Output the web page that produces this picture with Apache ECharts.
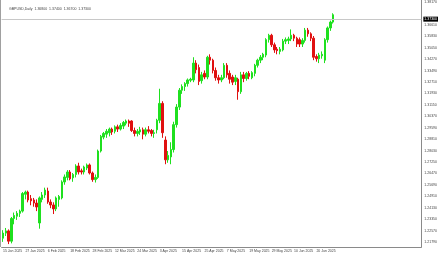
<!DOCTYPE html>
<html><head><meta charset="utf-8">
<script src="https://cdn.jsdelivr.net/npm/echarts@6/dist/echarts.min.js"></script>
<style>html,body{margin:0;padding:0;background:#fff}#c{width:440px;height:254px}</style>
</head><body><div id="c"></div>
<script>
const titleText = "GBPUSD,Daily  1.36800  1.37400  1.36700  1.37300";
const dates = ["15 Jan 2025","16 Jan 2025","17 Jan 2025","20 Jan 2025","21 Jan 2025","22 Jan 2025","23 Jan 2025","24 Jan 2025","27 Jan 2025","28 Jan 2025","29 Jan 2025","30 Jan 2025","31 Jan 2025",
"3 Feb 2025","4 Feb 2025","5 Feb 2025","6 Feb 2025","7 Feb 2025","10 Feb 2025","11 Feb 2025","12 Feb 2025","13 Feb 2025","14 Feb 2025","17 Feb 2025","18 Feb 2025","19 Feb 2025","20 Feb 2025","21 Feb 2025","24 Feb 2025","25 Feb 2025","26 Feb 2025","27 Feb 2025","28 Feb 2025",
"3 Mar 2025","4 Mar 2025","5 Mar 2025","6 Mar 2025","7 Mar 2025","10 Mar 2025","11 Mar 2025","12 Mar 2025","13 Mar 2025","14 Mar 2025","17 Mar 2025","18 Mar 2025","19 Mar 2025","20 Mar 2025","21 Mar 2025","24 Mar 2025","25 Mar 2025","26 Mar 2025","27 Mar 2025","28 Mar 2025","31 Mar 2025",
"1 Apr 2025","2 Apr 2025","3 Apr 2025","4 Apr 2025","7 Apr 2025","8 Apr 2025","9 Apr 2025","10 Apr 2025","11 Apr 2025","14 Apr 2025","15 Apr 2025","16 Apr 2025","17 Apr 2025","18 Apr 2025","21 Apr 2025","22 Apr 2025","23 Apr 2025","24 Apr 2025","25 Apr 2025","28 Apr 2025","29 Apr 2025","30 Apr 2025",
"1 May 2025","2 May 2025","5 May 2025","6 May 2025","7 May 2025","8 May 2025","9 May 2025","12 May 2025","13 May 2025","14 May 2025","15 May 2025","16 May 2025","19 May 2025","20 May 2025","21 May 2025","22 May 2025","23 May 2025","26 May 2025","27 May 2025","28 May 2025","29 May 2025","30 May 2025",
"2 Jun 2025","3 Jun 2025","4 Jun 2025","5 Jun 2025","6 Jun 2025","9 Jun 2025","10 Jun 2025","11 Jun 2025","12 Jun 2025","13 Jun 2025","16 Jun 2025","17 Jun 2025","18 Jun 2025","19 Jun 2025","20 Jun 2025","23 Jun 2025","24 Jun 2025","25 Jun 2025","26 Jun 2025","27 Jun 2025","30 Jun 2025"];
const openP = [1.2205,1.2240,1.2255,1.2185,1.2340,1.2355,1.2375,1.2390,1.2505,1.2520,1.2475,1.2466,1.2445,
1.2309,1.2470,1.2500,1.2527,1.2452,1.2432,1.2405,1.2470,1.2480,1.2589,1.2620,1.2657,1.2617,1.2640,1.2698,1.2665,1.2657,1.2684,1.2705,1.2650,
1.2605,1.2620,1.2800,1.2895,1.2915,1.2925,1.2950,1.2935,1.2965,1.2950,1.2970,1.2990,1.3005,1.3005,1.2940,1.2920,1.2930,1.2945,1.2915,1.2945,1.2940,
1.2920,1.2945,1.3010,1.3125,1.2875,1.2740,1.2760,1.2810,1.2980,1.3100,1.3215,1.3240,1.3260,1.3283,1.3285,1.3400,1.3370,1.3280,1.3330,1.3305,1.3440,1.3420,
1.3350,1.3300,1.3285,1.3300,1.3385,1.3330,1.3305,1.3275,1.3290,1.3205,1.3320,1.3295,1.3330,1.3300,1.3330,1.3385,1.3420,1.3440,1.3455,1.3560,1.3590,1.3525,
1.3495,1.3480,1.3490,1.3550,1.3555,1.3565,1.3590,1.3570,1.3560,1.3530,1.3555,1.3625,1.3600,1.3570,1.3445,1.3430,1.3450,1.3420,1.3560,1.3640,1.3680];
const closeP = [1.2240,1.2255,1.2185,1.2340,1.2360,1.2375,1.2390,1.2510,1.2520,1.2466,1.2460,1.2445,1.2418,
1.2480,1.2500,1.2534,1.2452,1.2432,1.2405,1.2480,1.2490,1.2589,1.2623,1.2657,1.2610,1.2640,1.2698,1.2657,1.2657,1.2691,1.2705,1.2650,1.2605,
1.2620,1.2800,1.2900,1.2920,1.2935,1.2950,1.2930,1.2965,1.2950,1.2975,1.2995,1.3005,1.2990,1.2940,1.2920,1.2935,1.2945,1.2915,1.2945,1.2935,1.2920,
1.2925,1.3010,1.3125,1.2925,1.2740,1.2770,1.2810,1.2980,1.3100,1.3215,1.3240,1.3260,1.3285,1.3290,1.3400,1.3355,1.3275,1.3320,1.3305,1.3440,1.3420,1.3350,
1.3300,1.3285,1.3300,1.3385,1.3320,1.3290,1.3270,1.3300,1.3205,1.3320,1.3295,1.3330,1.3310,1.3335,1.3385,1.3420,1.3440,1.3460,1.3560,1.3590,1.3525,1.3490,
1.3485,1.3495,1.3550,1.3560,1.3565,1.3590,1.3570,1.3530,1.3530,1.3555,1.3625,1.3600,1.3570,1.3440,1.3430,1.3455,1.3460,1.3560,1.3640,1.3680,1.3730];
const lowP = [1.2180,1.2220,1.2165,1.2170,1.2300,1.2330,1.2350,1.2380,1.2470,1.2450,1.2430,1.2420,1.2390,
1.2270,1.2450,1.2480,1.2440,1.2410,1.2370,1.2390,1.2420,1.2470,1.2570,1.2600,1.2600,1.2590,1.2620,1.2640,1.2640,1.2640,1.2670,1.2640,1.2590,
1.2585,1.2610,1.2790,1.2880,1.2890,1.2900,1.2910,1.2920,1.2930,1.2940,1.2950,1.2975,1.2965,1.2930,1.2900,1.2900,1.2910,1.2880,1.2900,1.2920,1.2900,
1.2890,1.2920,1.2990,1.2890,1.2710,1.2720,1.2710,1.2790,1.2960,1.3080,1.3190,1.3210,1.3240,1.3270,1.3270,1.3330,1.3250,1.3260,1.3290,1.3290,1.3390,1.3330,
1.3280,1.3260,1.3270,1.3290,1.3300,1.3260,1.3250,1.3250,1.3150,1.3190,1.3270,1.3280,1.3290,1.3290,1.3310,1.3370,1.3400,1.3420,1.3440,1.3540,1.3510,1.3470,
1.3460,1.3460,1.3480,1.3530,1.3530,1.3550,1.3550,1.3510,1.3510,1.3510,1.3540,1.3580,1.3550,1.3420,1.3410,1.3400,1.3430,1.3400,1.3540,1.3620,1.3670];
const highP = [1.2260,1.2275,1.2265,1.2350,1.2380,1.2390,1.2400,1.2520,1.2530,1.2530,1.2500,1.2480,1.2470,
1.2490,1.2520,1.2550,1.2550,1.2470,1.2450,1.2490,1.2500,1.2600,1.2640,1.2670,1.2670,1.2650,1.2710,1.2720,1.2680,1.2700,1.2715,1.2715,1.2660,
1.2640,1.2810,1.2910,1.2930,1.2950,1.2960,1.2960,1.2975,1.2980,1.2990,1.3005,1.3015,1.3015,1.3010,1.2960,1.2950,1.2965,1.2960,1.2960,1.2970,1.2950,
1.2945,1.3020,1.3225,1.3140,1.2900,1.2800,1.2860,1.3000,1.3120,1.3230,1.3255,1.3270,1.3295,1.3300,1.3440,1.3420,1.3390,1.3340,1.3350,1.3450,1.3460,1.3430,
1.3370,1.3320,1.3320,1.3400,1.3400,1.3350,1.3320,1.3320,1.3300,1.3340,1.3340,1.3340,1.3345,1.3345,1.3395,1.3430,1.3455,1.3470,1.3570,1.3600,1.3600,1.3540,
1.3510,1.3510,1.3565,1.3575,1.3580,1.3630,1.3600,1.3580,1.3575,1.3570,1.3640,1.3640,1.3610,1.3585,1.3460,1.3470,1.3480,1.3570,1.3650,1.3690,1.3740];
const priceTicks = [1.38170,1.36610,1.35830,1.35050,1.34270,1.33490,1.32710,1.31930,1.31150,1.30370,1.29590,1.28810,1.28030,1.27250,1.26470,1.25690,1.24910,1.24130,1.23350,1.22570,1.21790];
const bidPrice = 1.37300;
const emptySlots = 31;

const cats = dates.concat(new Array(emptySlots).fill(''));
const ohlc = dates.map((d, i) => [openP[i], closeP[i], lowP[i], highP[i]]);
const UP = '#1fe01f', DOWN = '#e01010';
const FONT = 'Liberation Sans';
const FS = 3.5;

const chart = echarts.init(document.getElementById('c'), null, {renderer: 'canvas'});
chart.setOption({
  animation: false,
  backgroundColor: '#fff',
  title: {text: titleText, left: 4, top: 2, textStyle: {fontSize: FS, fontWeight: 'normal', color: '#444', fontFamily: FONT}},
  grid: {left: 0, top: 0, width: 422, height: 247, containLabel: false},
  xAxis: {
    type: 'category', data: cats, boundaryGap: true,
    axisLine: {show: true, lineStyle: {color: '#8a8a8a', width: 1}},
    axisTick: {show: false},
    axisLabel: {
      interval: (idx) => idx % 8 === 0 && idx < dates.length,
      align: 'left', margin: 2, fontSize: FS, color: '#444', fontFamily: FONT
    },
    splitLine: {show: false}
  },
  yAxis: {
    type: 'value', position: 'right', min: 1.21451, max: 1.38306, scale: true,
    axisLine: {show: true, lineStyle: {color: '#8a8a8a', width: 1}},
    axisTick: {show: false},
    axisLabel: {customValues: priceTicks, formatter: v => v.toFixed(5), margin: 3, fontSize: FS, color: '#444', fontFamily: FONT},
    splitLine: {show: false}
  },
  series: [{
    type: 'candlestick', data: ohlc, barWidth: 2,
    itemStyle: {color: UP, color0: DOWN, borderColor: UP, borderColor0: DOWN, borderWidth: 1},
    markLine: {
      silent: true, symbol: 'none', animation: false,
      lineStyle: {color: '#c8c8c8', type: 'solid', width: 1},
      label: {show: true, position: 'end', formatter: bidPrice.toFixed(5), backgroundColor: '#000', color: '#fff', fontSize: FS, fontFamily: FONT, padding: [1, 1, 0, 1], distance: 2},
      data: [{yAxis: bidPrice}]
    }
  }],
  graphic: [{type: 'line', shape: {x1: 0.5, y1: 0, x2: 0.5, y2: 247}, style: {stroke: '#a0a0a0', lineWidth: 1}}]
});
</script></body></html>
